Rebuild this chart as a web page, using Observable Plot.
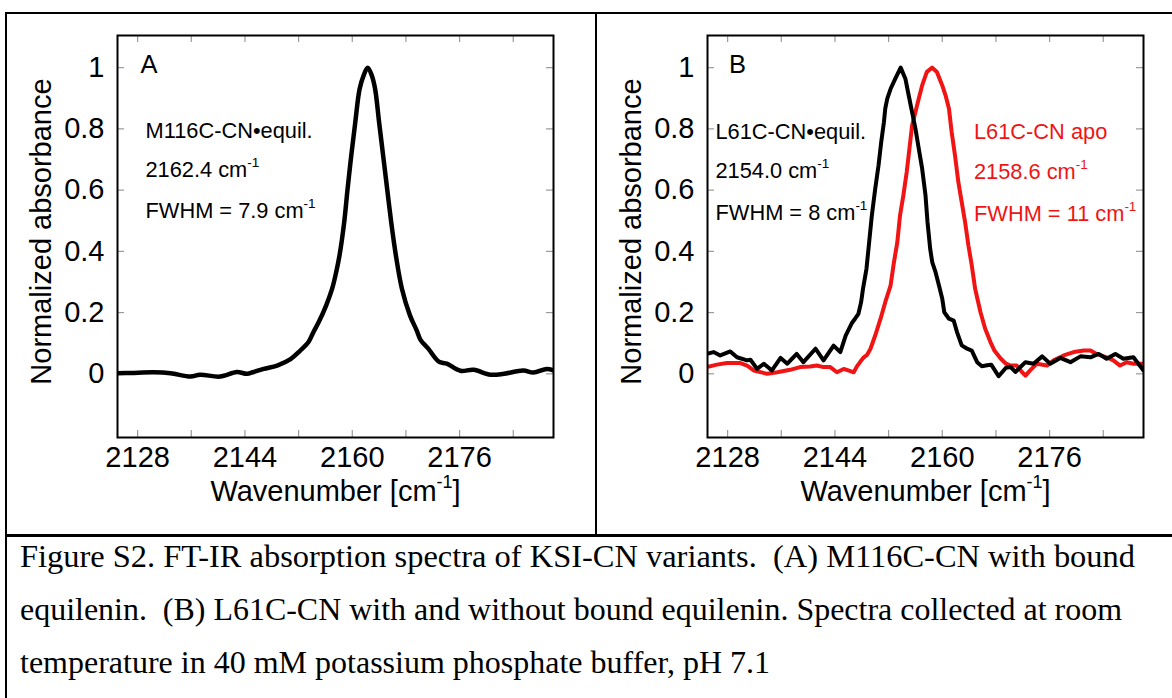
<!DOCTYPE html>
<html>
<head>
<meta charset="utf-8">
<script src="https://cdn.jsdelivr.net/npm/d3@7"></script>
<script src="https://cdn.jsdelivr.net/npm/@observablehq/plot@0.6"></script>
<style>
  html, body { margin: 0; padding: 0; background: #fff; }
  #page { position: relative; width: 1172px; height: 698px; overflow: hidden; background: #fff; }
  #panelA { position: absolute; left: 0; top: 0; }
  #panelB { position: absolute; left: 596px; top: 0; }
  .rule { position: absolute; background: #000; }
  #caption { position: absolute; left: 0; top: 536px; }
  #caption text { white-space: pre; }
</style>
</head>
<body>
<div id="page">
  <div id="panelA"></div>
  <div id="panelB"></div>
  <div class="rule" style="left:5px;top:12px;width:1167px;height:2px"></div>
  <div class="rule" style="left:5px;top:12px;width:2px;height:686px"></div>
  <div class="rule" style="left:595px;top:13px;width:2px;height:522px"></div>
  <div class="rule" style="left:5px;top:534px;width:1167px;height:2.5px"></div>
  <svg id="caption" width="1172" height="162"></svg>
</div>
<script>
// ---------------- data ----------------
const xTickLabels = [2128, 2144, 2160, 2176];
const xMinorTicks = [2128, 2136, 2144, 2152, 2160, 2168, 2176, 2184];
const yTickLabels = [0, 0.2, 0.4, 0.6, 0.8, 1];

const xAxisLabel = "Wavenumber [cm⁻¹]";
const yAxisLabel = "Normalized absorbance";

// Panel A: M116C-CN with bound equilenin
const aWavenumber = [2125.0, 2127.0, 2130.4, 2132.9, 2135.9, 2137.3, 2140.3, 2142.8, 2144.3, 2145.3,
  2146.8, 2148.8, 2150.8, 2152.2, 2153.5, 2154.2, 2155.0, 2156.1, 2157.0, 2157.6,
  2158.1, 2158.8, 2159.3, 2159.85, 2160.45, 2161.1, 2161.7, 2162.3, 2162.9, 2163.4,
  2164.0, 2164.6, 2165.2, 2165.8, 2166.5, 2167.4, 2168.6, 2169.6, 2170.2, 2171.3,
  2172.9, 2174.1, 2176.1, 2178.1, 2180.6, 2182.6, 2185.5, 2187.0, 2189.0, 2190.0];
const aAbsorbance = [0.002, 0.003, 0.005, 0.002, -0.009, -0.003, -0.009, 0.006, 0.0, 0.006,
  0.016, 0.027, 0.048, 0.075, 0.105, 0.136, 0.169, 0.223, 0.278, 0.332,
  0.387, 0.496, 0.604, 0.713, 0.822, 0.931, 0.975, 1.0, 0.975, 0.931,
  0.822, 0.713, 0.604, 0.496, 0.387, 0.278, 0.191, 0.142, 0.11, 0.083,
  0.04, 0.033, 0.01, 0.013, -0.003, 0.0, 0.011, 0.004, 0.016, 0.011];

// Panel B: L61C-CN with bound equilenin (black)
const bEquilWavenumber = [2124.9, 2125.9, 2126.9, 2128.4, 2129.4, 2130.9, 2131.4, 2132.4, 2133.4, 2134.6,
  2135.9, 2136.9, 2138.3, 2139.3, 2141.1, 2142.3, 2143.8, 2144.8, 2145.6, 2146.5,
  2147.0, 2147.5, 2147.9, 2148.2, 2148.7, 2149.1, 2149.5, 2150.0, 2150.5, 2150.9,
  2151.3, 2151.5, 2151.8, 2152.3, 2153.0, 2153.8, 2154.5, 2155.0, 2155.5, 2156.0,
  2156.5, 2157.0, 2157.5, 2157.8, 2158.2, 2158.5, 2159.0, 2159.5, 2160.0, 2160.3,
  2161.0, 2161.7, 2162.2, 2162.9, 2163.7, 2164.4, 2165.2, 2165.9, 2166.7, 2167.3,
  2168.4, 2169.5, 2170.2, 2170.9, 2172.4, 2173.6, 2174.9, 2176.1, 2177.6, 2179.1,
  2180.6, 2182.1, 2183.3, 2184.5, 2185.8, 2187.0, 2188.5, 2190.0];
const bEquilAbsorbance = [0.065, 0.071, 0.060, 0.073, 0.054, 0.044, 0.046, 0.016, 0.033, 0.011,
  0.052, 0.033, 0.065, 0.038, 0.082, 0.044, 0.092, 0.071, 0.125, 0.165,
  0.18, 0.196, 0.234, 0.28, 0.343, 0.43, 0.517, 0.604, 0.681, 0.757,
  0.822, 0.866, 0.899, 0.931, 0.964, 1.0, 0.964, 0.909, 0.855, 0.801,
  0.735, 0.670, 0.583, 0.496, 0.408, 0.365, 0.332, 0.289, 0.245, 0.201,
  0.180, 0.174, 0.136, 0.093, 0.082, 0.076, 0.038, 0.025, 0.028, 0.030,
  -0.008, 0.020, 0.022, 0.006, 0.038, 0.033, 0.057, 0.033, 0.052, 0.038,
  0.057, 0.054, 0.065, 0.049, 0.065, 0.049, 0.054, 0.011];

// Panel B: L61C-CN apo (red)
const bApoWavenumber = [2124.9, 2126.4, 2127.9, 2129.9, 2130.9, 2131.9, 2133.9, 2135.4, 2137.3, 2138.8,
  2140.3, 2141.3, 2142.3, 2143.3, 2144.3, 2145.3, 2146.0, 2146.8, 2147.3, 2147.8,
  2148.3, 2148.8, 2149.3, 2150.0, 2150.8, 2151.5, 2152.3, 2152.8, 2153.3, 2153.7,
  2154.2, 2154.7, 2155.1, 2155.5, 2156.0, 2156.5, 2157.0, 2157.7, 2158.5, 2159.2,
  2160.0, 2160.5, 2161.0, 2161.4, 2161.9, 2162.4, 2162.9, 2163.4, 2163.9, 2164.4,
  2164.9, 2165.7, 2166.4, 2167.2, 2167.8, 2168.7, 2169.5, 2170.2, 2171.1, 2171.9,
  2172.4, 2173.1, 2174.1, 2175.6, 2176.6, 2178.1, 2179.6, 2181.1, 2182.1, 2183.0,
  2184.5, 2185.5, 2186.5, 2187.5, 2188.5, 2190.0];
const bApoAbsorbance = [0.022, 0.030, 0.035, 0.035, 0.027, 0.011, 0.0, 0.005, 0.013, 0.022,
  0.024, 0.027, 0.022, 0.022, 0.005, 0.016, 0.011, 0.005, 0.025, 0.040,
  0.054, 0.062, 0.082, 0.125, 0.180, 0.234, 0.289, 0.365, 0.430, 0.517,
  0.583, 0.659, 0.735, 0.811, 0.855, 0.899, 0.942, 0.986, 1.0, 0.986,
  0.942, 0.909, 0.866, 0.790, 0.713, 0.626, 0.561, 0.496, 0.419, 0.354,
  0.278, 0.201, 0.147, 0.103, 0.075, 0.050, 0.033, 0.027, 0.027, 0.005,
  -0.006, 0.011, 0.033, 0.027, 0.044, 0.060, 0.071, 0.076, 0.076, 0.065,
  0.054, 0.044, 0.027, 0.038, 0.033, 0.033];

const notesA = ["M116C-CN•equil.", "2162.4 cm⁻¹", "FWHM = 7.9 cm⁻¹"];
const notesBEquil = ["L61C-CN•equil.", "2154.0 cm⁻¹", "FWHM = 8 cm⁻¹"];
const notesBApo = ["L61C-CN apo", "2158.6 cm⁻¹", "FWHM = 11 cm⁻¹"];

const captionLines = [
  "Figure S2. FT-IR absorption spectra of KSI-CN variants.  (A) M116C-CN with bound",
  "equilenin.  (B) L61C-CN with and without bound equilenin. Spectra collected at room",
  "temperature in 40 mM potassium phosphate buffer, pH 7.1"
];

// ---------------- layout / style ----------------
const RED = "#f01414";
const TICK_GRAY = "#9a9a9a";
const H = 535, MT = 35, MB = 98;
const innerH = H - MT - MB;
const TICK_LEN = 7;
const SANS = "'Liberation Sans', Arial, Helvetica, sans-serif";

const toRows = (xs, ys) => xs.map((x, i) => ({wavenumber: x, absorbance: ys[i]}));

function notesMarks(lines, dx, dys, color) {
  return lines.map((t, i) => Plot.text([t], {
    text: d => d, frameAnchor: "top-left", textAnchor: "start", lineAnchor: "top",
    dx, dy: dys[i], fontSize: 21.8, fill: color
  }));
}

function panel({width, marginLeft, marginRight, letter, letterDx, lineMarks, noteMarks}) {
  const innerW = width - marginLeft - marginRight;
  return Plot.plot({
    width, height: H, marginLeft, marginRight, marginTop: MT, marginBottom: MB,
    style: {fontFamily: SANS, fontSize: "29px", color: "#000", background: "transparent", overflow: "visible"},
    x: {domain: [2125, 2190]},
    y: {domain: [-0.208, 1.105]},
    marks: [
      Plot.ruleX(xMinorTicks, {x: d => d, stroke: TICK_GRAY, strokeWidth: 1.2, insetTop: innerH - TICK_LEN}),
      Plot.ruleX(xMinorTicks, {x: d => d, stroke: TICK_GRAY, strokeWidth: 1.2, insetBottom: innerH - TICK_LEN}),
      Plot.ruleY(yTickLabels, {y: d => d, stroke: TICK_GRAY, strokeWidth: 1.2, insetRight: innerW - TICK_LEN}),
      Plot.ruleY(yTickLabels, {y: d => d, stroke: TICK_GRAY, strokeWidth: 1.2, insetLeft: innerW - TICK_LEN}),
      Plot.axisX({ticks: xTickLabels, tickSize: 0, tickPadding: 9, tickFormat: d => String(d), label: null}),
      Plot.axisY({ticks: yTickLabels, tickSize: 0, tickPadding: 13, tickFormat: d => String(d), label: null}),
      ...lineMarks,
      Plot.frame({stroke: "#000", strokeWidth: 2}),
      Plot.text([letter], {text: d => d, frameAnchor: "top-left", textAnchor: "start", lineAnchor: "top", dx: letterDx, dy: 19.5, fontSize: 25.5}),
      ...noteMarks,
      Plot.text([xAxisLabel], {text: d => d, frameAnchor: "bottom", textAnchor: "middle", lineAnchor: "top", dy: 42.5}),
      Plot.text([yAxisLabel], {text: d => d, frameAnchor: "left", textAnchor: "middle", lineAnchor: "middle", rotate: -90, dx: -76, dy: -5})
    ]
  });
}

function superscripts(svg) {
  const ns = "http://www.w3.org/2000/svg";
  svg.querySelectorAll("text").forEach(t => {
    const s = t.textContent;
    const i = s.indexOf("⁻¹");
    if (i < 0) return;
    const fs = parseFloat(getComputedStyle(t).fontSize) || 21;
    const raise = Math.round(fs * 0.44);
    const before = s.slice(0, i), after = s.slice(i + 2);
    t.textContent = before;
    const sup = document.createElementNS(ns, "tspan");
    sup.setAttribute("font-size", (fs * 0.62).toFixed(1));
    sup.setAttribute("dy", -raise);
    sup.textContent = "-1";
    t.appendChild(sup);
    if (after) {
      const a = document.createElementNS(ns, "tspan");
      a.setAttribute("dy", raise);
      a.textContent = after;
      t.appendChild(a);
    }
  });
}

const plotA = panel({
  width: 596, marginLeft: 117, marginRight: 43, letter: "A", letterDx: 23,
  lineMarks: [
    Plot.line(toRows(aWavenumber, aAbsorbance), {x: "wavenumber", y: "absorbance", stroke: "#000", strokeWidth: 4.5, curve: "catmull-rom", strokeLinejoin: "round", clip: true})
  ],
  noteMarks: notesMarks(notesA, 28, [87.5, 126.5, 167.5], "#000")
});
document.getElementById("panelA").appendChild(plotA);
superscripts(plotA);

const plotB = panel({
  width: 576, marginLeft: 111, marginRight: 29, letter: "B", letterDx: 21.5,
  lineMarks: [
    Plot.line(toRows(bApoWavenumber, bApoAbsorbance), {x: "wavenumber", y: "absorbance", stroke: RED, strokeWidth: 4, strokeLinejoin: "round", clip: true}),
    Plot.line(toRows(bEquilWavenumber, bEquilAbsorbance), {x: "wavenumber", y: "absorbance", stroke: "#000", strokeWidth: 4, strokeLinejoin: "round", clip: true})
  ],
  noteMarks: [
    ...notesMarks(notesBEquil, 8, [88.5, 127.5, 169.5], "#000"),
    ...notesMarks(notesBApo, 266.5, [88.5, 128.5, 170.5], RED)
  ]
});
document.getElementById("panelB").appendChild(plotB);
superscripts(plotB);

// caption
const captionWidths = [1115, 1102, 750];
const captionBaselines = [31, 84, 137];
const cap = d3.select("#caption")
  .attr("font-family", "'Liberation Serif', 'Times New Roman', serif")
  .attr("font-size", 32);
cap.selectAll("text").data(captionLines).join("text")
  .attr("x", 20)
  .attr("y", (d, i) => captionBaselines[i])
  .attr("textLength", (d, i) => captionWidths[i])
  .attr("lengthAdjust", "spacingAndGlyphs")
  .attr("fill", "#000")
  .style("white-space", "pre")
  .text(d => d);
</script>
</body>
</html>
